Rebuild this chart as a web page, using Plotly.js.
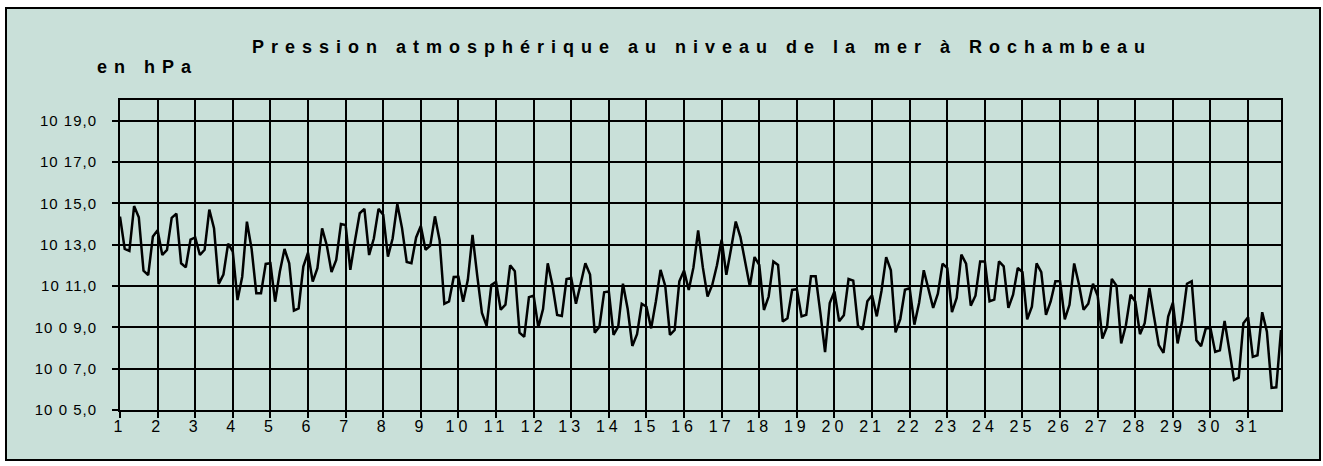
<!DOCTYPE html>
<html>
<head>
<meta charset="utf-8">
<script src="https://cdn.plot.ly/plotly-3.0.1.min.js"></script>
<style>
  html, body { margin: 0; padding: 0; background: #ffffff; }
  #chart { width: 1323px; height: 466px; }
  .gtitle { letter-spacing: 7px; }
  .annotation-text { letter-spacing: 7px; }
  .xtick text { letter-spacing: 4px; }
  .ytick text { letter-spacing: 1px; }
</style>
</head>
<body>
<div id="chart"></div>
<script>
// Sea-level pressure at Rochambeau, 8 readings per day (every 3 hours), 31 days
const titleText = "Pression atmosphérique au niveau de la mer à Rochambeau";
const unitText = "en hPa";
const readingsPerDay = 8;
const dayLabels = ["1","2","3","4","5","6","7","8","9","10","11","12","13","14","15","16",
                   "17","18","19","20","21","22","23","24","25","26","27","28","29","30","31"];
const yTickValues = [1005, 1007, 1009, 1011, 1013, 1015, 1017, 1019];
const yTickLabels = ["10 0 5,0", "10 0 7,0", "10 0 9,0", "10 11,0", "10 13,0", "10 15,0", "10 17,0", "10 19,0"];

const pressureWeek1 = [
  1014.36, 1012.8, 1012.7, 1014.87, 1014.33, 1011.74, 1011.53, 1013.4,
  1013.7, 1012.5, 1012.75, 1014.3, 1014.5, 1012.1, 1011.9, 1013.25,
  1013.35, 1012.5, 1012.75, 1014.7, 1013.8, 1011.1, 1011.55, 1013.05,
  1012.66, 1010.32, 1011.45, 1014.11, 1012.8, 1010.65, 1010.65, 1012.07,
  1012.1, 1010.24, 1011.69, 1012.79, 1012.1, 1009.81, 1009.92, 1011.94,
  1012.61, 1011.21, 1011.86, 1013.79, 1012.96, 1011.68, 1012.26, 1014.0,
  1013.95, 1011.78, 1013.2, 1014.52, 1014.73, 1012.5, 1013.3, 1014.73
];
const pressureWeek2 = [
  1014.45, 1012.42, 1013.3, 1014.97, 1013.8, 1012.16, 1012.1, 1013.35,
  1013.9, 1012.75, 1012.95, 1014.37, 1013.2, 1010.14, 1010.25, 1011.44,
  1011.45, 1010.24, 1011.3, 1013.47, 1011.5, 1009.7, 1009.07, 1011.05,
  1011.2, 1009.85, 1010.1, 1012.0, 1011.72, 1008.74, 1008.54, 1010.46,
  1010.53, 1009.0, 1009.88, 1012.1, 1011.05, 1009.6, 1009.55, 1011.34,
  1011.39, 1010.14, 1011.1, 1012.1, 1011.55, 1008.74, 1009.03, 1010.7,
  1010.74, 1008.63, 1009.03, 1011.11, 1009.9, 1008.1, 1008.67, 1010.14
];
const pressureWeek3 = [
  1010.0, 1008.95, 1010.25, 1011.78, 1011.0, 1008.63, 1008.87, 1011.23,
  1011.75, 1010.81, 1011.9, 1013.69, 1011.9, 1010.49, 1011.05, 1012.0,
  1013.24, 1011.54, 1012.8, 1014.12, 1013.37, 1012.1, 1010.97, 1012.4,
  1012.02, 1009.84, 1010.49, 1012.19, 1012.02, 1009.28, 1009.44, 1010.81,
  1010.85, 1009.53, 1009.61, 1011.47, 1011.47, 1009.7, 1007.8, 1010.18,
  1010.74, 1009.29, 1009.58, 1011.34, 1011.26, 1009.08, 1008.89, 1010.26,
  1010.55, 1009.53, 1010.76, 1012.4, 1011.76, 1008.76, 1009.4, 1010.82
];
const pressureWeek4 = [
  1010.9, 1009.13, 1010.18, 1011.76, 1010.9, 1009.94, 1010.63, 1012.08,
  1011.87, 1009.74, 1010.42, 1012.52, 1012.08, 1010.05, 1010.53, 1012.19,
  1012.19, 1010.26, 1010.34, 1012.19, 1011.95, 1009.94, 1010.58, 1011.87,
  1011.67, 1009.39, 1010.0, 1012.09, 1011.67, 1009.6, 1010.25, 1011.23,
  1011.23, 1009.39, 1010.09, 1012.09, 1011.1, 1009.85, 1010.14, 1011.11,
  1010.53, 1008.46, 1009.03, 1011.34, 1011.02, 1008.22, 1009.1, 1010.58,
  1010.25, 1008.67, 1009.2, 1010.9, 1009.5, 1008.14, 1007.76, 1009.52
];
const pressureLastDays = [
  1010.2, 1008.22, 1009.33, 1011.11, 1011.23, 1008.38, 1008.09, 1008.95,
  1008.95, 1007.81, 1007.89, 1009.31, 1007.9, 1006.46, 1006.56, 1009.2,
  1009.49, 1007.57, 1007.65, 1009.73, 1008.79, 1006.07, 1006.1, 1008.87
];

const pressure = [].concat(pressureWeek1, pressureWeek2, pressureWeek3, pressureWeek4, pressureLastDays);
const timeInDays = pressure.map((v, i) => 1 + i / readingsPerDay);
const dayTickValues = dayLabels.map((d, i) => i + 1);

const bg = "#c9e0d9";

const trace = {
  x: timeInDays,
  y: pressure,
  type: "scatter",
  mode: "lines",
  line: { color: "#000000", width: 2.5 },
  hoverinfo: "x+y",
  showlegend: false
};

const layout = {
  width: 1323,
  height: 466,
  margin: { l: 120, r: 42, t: 100, b: 56, pad: 0 },
  paper_bgcolor: "#ffffff",
  plot_bgcolor: "rgba(0,0,0,0)",
  font: { family: "Liberation Sans, Arial, sans-serif", color: "#000000", size: 15 },
  title: {
    text: titleText,
    xref: "container", x: 0.5306, xanchor: "center",
    yref: "container", y: 0.9, yanchor: "middle",
    font: { family: "Liberation Sans, Arial, sans-serif", size: 18, weight: "bold", color: "#000000" }
  },
  xaxis: {
    range: [1, 31.875],
    tickmode: "array",
    tickvals: dayTickValues,
    ticktext: dayLabels,
    showgrid: true, gridcolor: "#000000", gridwidth: 2,
    showline: true, linecolor: "#000000", linewidth: 2, mirror: true,
    ticks: "outside", ticklen: 6, tickwidth: 2, tickcolor: "#000000",
    ticklabelstandoff: -5,
    tickfont: { size: 16, color: "#000000" },
    zeroline: false, fixedrange: true
  },
  yaxis: {
    range: [1005, 1020],
    tickmode: "array",
    tickvals: yTickValues,
    ticktext: yTickLabels,
    showgrid: true, gridcolor: "#000000", gridwidth: 2,
    showline: true, linecolor: "#000000", linewidth: 2, mirror: true,
    ticks: "outside", ticklen: 6, tickwidth: 2, tickcolor: "#000000",
    ticklabelstandoff: 12,
    tickfont: { size: 15, color: "#000000" },
    zeroline: false, fixedrange: true
  },
  shapes: [{
    type: "rect", layer: "below",
    xref: "paper", yref: "paper",
    x0: (6 - 120) / 1161, x1: (1320 - 120) / 1161,
    y0: (410 - 460) / 310, y1: (410 - 8) / 310,
    fillcolor: bg,
    line: { color: "#000000", width: 2 }
  }],
  annotations: [{
    text: unitText,
    xref: "paper", x: (95 - 120) / 1161, xanchor: "left",
    yref: "paper", y: (410 - 67) / 310, yanchor: "middle",
    showarrow: false,
    font: { family: "Liberation Sans, Arial, sans-serif", size: 18, weight: "bold", color: "#000000" }
  }]
};

Plotly.newPlot("chart", [trace], layout, { displayModeBar: false, staticPlot: true });
</script>
</body>
</html>
